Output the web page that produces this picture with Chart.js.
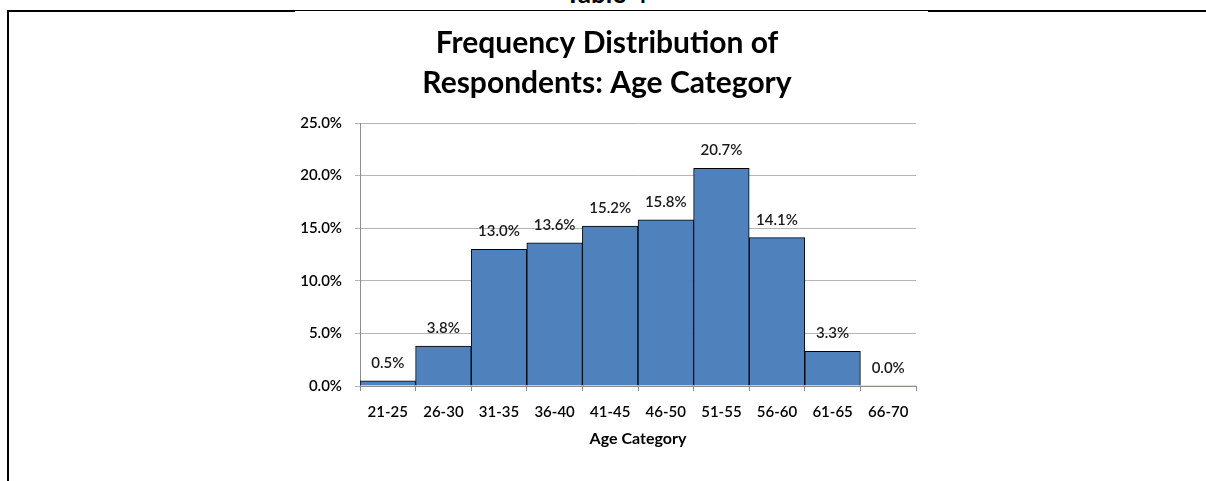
<!DOCTYPE html>
<html>
<head>
<meta charset="utf-8">
<title>Frequency Distribution of Respondents: Age Category</title>
<script src="https://cdn.jsdelivr.net/npm/chart.js@4.4.1/dist/chart.umd.min.js"></script>
<style>
    html, body { margin: 0; padding: 0; background: #fff; }
    body { width: 1206px; height: 481px; position: relative; overflow: hidden; font-family: Lato, sans-serif; }
    .caption { position: absolute; left: 565px; top: -20px; font-size: 26px; line-height: 1; font-weight: bold; color: #000; }
    .rule { position: absolute; background: #000; }
    #ageChart { position: absolute; left: 0; top: 0; }
</style>
</head>
<body>
<div class="caption">Table 4</div>
<div class="rule" style="left:7px; top:10px; width:288px; height:2px"></div>
<div class="rule" style="left:295px; top:10px; width:633px; height:1px"></div>
<div class="rule" style="left:928px; top:10px; width:278px; height:2px"></div>
<div class="rule" style="left:7px; top:10px; width:2px; height:471px"></div>
<canvas id="ageChart" width="1206" height="481"></canvas>

<script>
// Share of respondents per age band (percent)
const ageGroups = ['21-25', '26-30', '31-35', '36-40', '41-45', '46-50', '51-55', '56-60', '61-65', '66-70'];
const respondentShare = [0.5, 3.8, 13.0, 13.6, 15.2, 15.8, 20.7, 14.1, 3.3, 0.0];
const shareTicks = [0, 5, 10, 15, 20, 25];
const titleLines = ['Frequency Distribution of', 'Respondents: Age Category'];

document.addEventListener('DOMContentLoaded', function () {
    const ctx = document.getElementById('ageChart').getContext('2d');

    // value labels sitting above each bar
    const barLabels = {
        id: 'barLabels',
        afterDatasetsDraw(chart) {
            const c = chart.ctx;
            const meta = chart.getDatasetMeta(0);
            c.save();
            c.font = '600 15px Lato';
            c.fillStyle = '#1a1a1a';
            c.textAlign = 'center';
            c.textBaseline = 'middle';
            meta.data.forEach((bar, i) => {
                c.fillText(respondentShare[i].toFixed(1) + '%', bar.x, bar.y - 18);
            });
            c.restore();
        }
    };

    new Chart(ctx, {
        type: 'bar',
        data: {
            labels: ageGroups,
            datasets: [{
                label: 'Respondents',
                data: respondentShare,
                backgroundColor: '#4f81bd',
                borderColor: '#000',
                borderWidth: (c) => (respondentShare[c.dataIndex] > 0 ? 1 : 0),
                categoryPercentage: 1,
                barPercentage: 1,
            }],
        },
        options: {
            responsive: false,
            animation: false,
            layout: {
                padding: { left: 298, right: 290, top: 0, bottom: 25 },
            },
            plugins: {
                legend: { display: false },
                tooltip: { enabled: false },
                title: {
                    display: true,
                    text: titleLines,
                    color: '#000',
                    font: { family: 'Lato', size: 30, weight: 'bold', lineHeight: 40 / 30 },
                    padding: { top: 23, bottom: 20 },
                },
            },
            scales: {
                x: {
                    afterFit: (scale) => { scale.height = 70; },
                    grid: {
                        offset: true,
                        drawOnChartArea: false,
                        tickLength: 5,
                        color: '#8c8c8c',
                    },
                    border: { color: '#8c8c8c' },
                    ticks: {
                        padding: 12,
                        color: '#000',
                        font: { family: 'Lato', size: 15, weight: '600' },
                        maxRotation: 0,
                        autoSkip: false,
                    },
                    title: {
                        display: true,
                        text: 'Age Category',
                        color: '#000',
                        font: { family: 'Lato', size: 16, weight: 'bold' },
                        padding: { top: 0, bottom: 8 },
                    },
                },
                y: {
                    min: 0,
                    max: 25,
                    afterFit: (scale) => { scale.width = 62; },
                    afterBuildTicks: (scale) => { scale.ticks = shareTicks.map(v => ({ value: v })); },
                    grid: {
                        color: '#b5b5b5',
                        tickLength: 5,
                    },
                    border: { color: '#8c8c8c' },
                    ticks: {
                        padding: 13,
                        color: '#000',
                        font: { family: 'Lato', size: 15, weight: '600' },
                        callback: (v) => v.toFixed(1) + '%',
                    },
                },
            },
        },
        plugins: [barLabels],
    });
});
</script>
</body>
</html>
